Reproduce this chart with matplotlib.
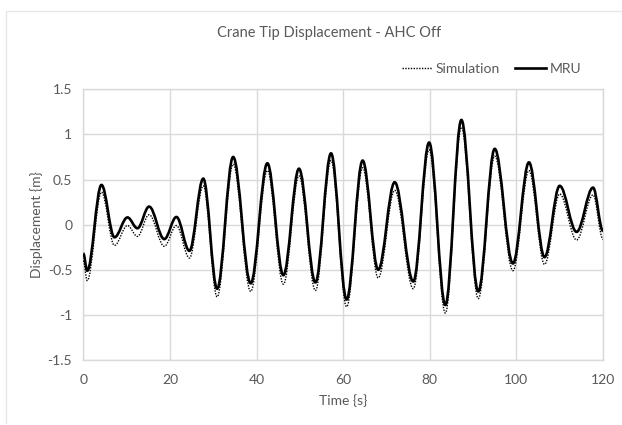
import numpy as np
import matplotlib
matplotlib.use('Agg')
import matplotlib.pyplot as plt
from matplotlib.path import Path
from matplotlib.patches import PathPatch
from matplotlib.lines import Line2D

plt.rcParams['font.family'] = ['Lato', 'DejaVu Sans']

# turning points (time in s, displacement in m)
t_pts = [0, 0.9, 4.2, 7.2, 10.2, 12.5, 15.2, 18.7, 21.5, 24.5, 27.7, 30.9,
         34.6, 38.65, 42.5, 46.2, 49.8, 53.6, 57.2, 60.8, 64.5, 68.1, 71.9,
         76.2, 79.85, 83.6, 87.3, 91.2, 95.0, 99.2, 102.9, 106.5, 110.0,
         113.9, 117.7, 120]
mru = [-0.32, -0.51, 0.44, -0.14, 0.08, -0.04, 0.20, -0.16, 0.085, -0.29,
       0.51, -0.71, 0.75, -0.65, 0.68, -0.56, 0.62, -0.64, 0.79, -0.83, 0.71,
       -0.50, 0.47, -0.63, 0.91, -0.89, 1.16, -0.74, 0.84, -0.43, 0.69, -0.36,
       0.43, -0.08, 0.41, -0.07]
sim = [-0.40, -0.62, 0.36, -0.23, -0.01, -0.13, 0.11, -0.24, -0.01, -0.37,
       0.43, -0.80, 0.67, -0.74, 0.60, -0.66, 0.54, -0.73, 0.71, -0.91, 0.63,
       -0.59, 0.38, -0.71, 0.83, -0.98, 1.08, -0.82, 0.76, -0.51, 0.60, -0.44,
       0.34, -0.17, 0.33, -0.16]

x_ticks = [0, 20, 40, 60, 80, 100, 120]
y_ticks = [-1.5, -1, -0.5, 0, 0.5, 1, 1.5]
y_tick_labels = ['-1.5', '-1', '-0.5', '0', '0.5', '1', '1.5']

txt = '#595959'
grid = '#d9d9d9'


def smooth_path(t, y):
    # smoothed line like Excel: cubic segments with flat tangents at the turning points
    verts = [(t[0], y[0])]
    codes = [Path.MOVETO]
    k = 0.364
    for i in range(1, len(t)):
        d = t[i] - t[i - 1]
        verts += [(t[i - 1] + k * d, y[i - 1]), (t[i] - k * d, y[i]), (t[i], y[i])]
        codes += [Path.CURVE4] * 3
    return Path(verts, codes)


fig = plt.figure(figsize=(6.22, 4.25), dpi=100)
ax = fig.add_axes([83.3 / 622, 1 - 360 / 425, (603 - 83.3) / 622, (360 - 89.3) / 425])

ax.add_patch(PathPatch(smooth_path(t_pts, sim), fill=False, ec='black', lw=1.0,
                       ls=(0, (1, 1)), zorder=3))
ax.add_patch(PathPatch(smooth_path(t_pts, mru), fill=False, ec='black', lw=1.9,
                       zorder=4))

ax.set_xlim(0, 120)
ax.set_ylim(-1.5, 1.5)
ax.set_xticks(x_ticks)
ax.set_yticks(y_ticks)
ax.set_yticklabels(y_tick_labels)
ax.grid(True, color=grid, lw=1.0)
ax.set_axisbelow(True)
for s in ax.spines.values():
    s.set_color(grid)
    s.set_linewidth(1.0)
ax.tick_params(length=0, colors=txt, labelsize=10, pad=8)
ax.tick_params(axis='x', pad=10)

ax.set_xlabel('Time {s}', color=txt, fontsize=10, labelpad=6)
ax.set_ylabel('Displacement {m}', color=txt, fontsize=10, labelpad=3)

fig.text(329 / 622, 1 - 33 / 425, 'Crane Tip Displacement - AHC Off', color=txt,
         fontsize=10.5, ha='center', va='center')

handles = [Line2D([], [], color='black', lw=1.0, ls=(0, (1, 1))),
           Line2D([], [], color='black', lw=1.9)]
fig.legend(handles, ['Simulation', 'MRU'], loc='center right', ncol=2,
           bbox_to_anchor=(588 / 622, 1 - 69 / 425), frameon=False, fontsize=10,
           handlelength=2.2, handletextpad=0.25, columnspacing=1.1, borderpad=0,
           labelcolor=txt)

# chart area border
fig.add_artist(Line2D([6 / 622, 6 / 622, 1], [1 - 423 / 425, 1 - 11 / 425, 1 - 11 / 425],
                      transform=fig.transFigure, color='#e6e6e6', lw=1.0))

fig.savefig('out.png', dpi=100)
